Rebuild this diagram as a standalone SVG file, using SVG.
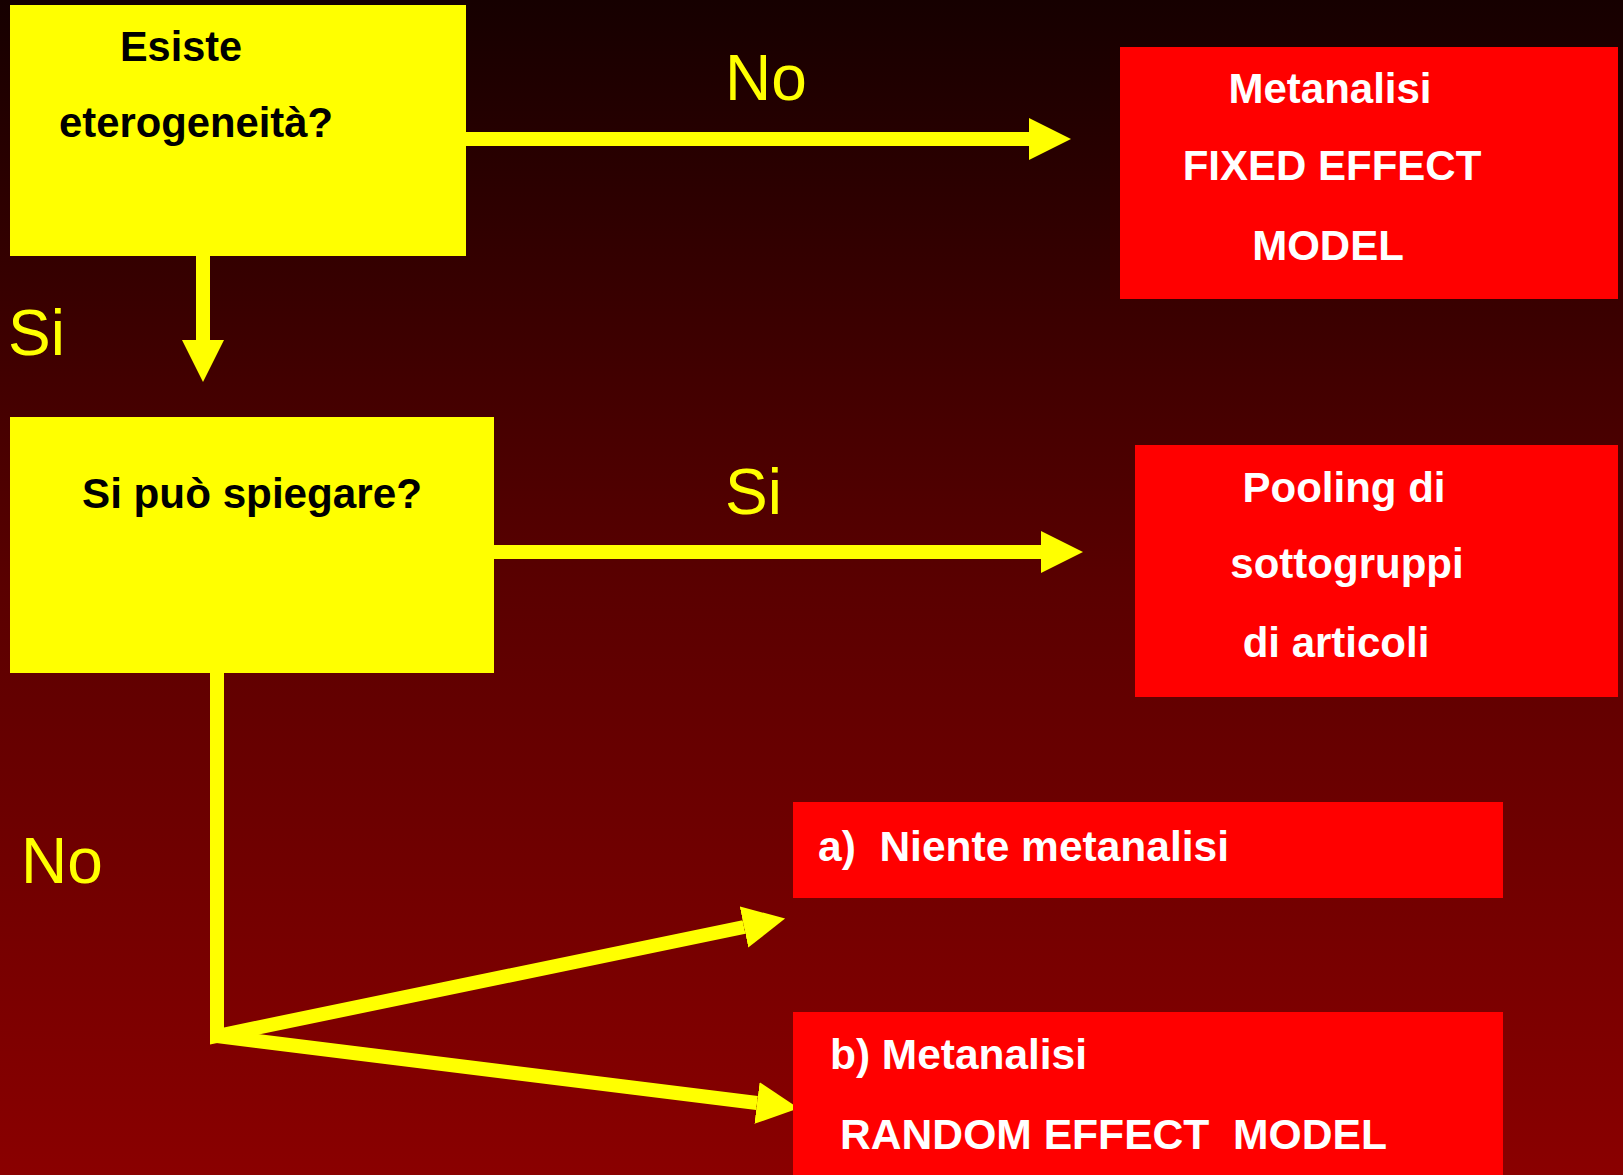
<svg xmlns="http://www.w3.org/2000/svg" width="1623" height="1175" viewBox="0 0 1623 1175">
  <defs>
    <linearGradient id="bg" x1="0" y1="0" x2="0" y2="1">
      <stop offset="0" stop-color="#160000"/>
      <stop offset="0.5" stop-color="#5a0000"/>
      <stop offset="1" stop-color="#8a0000"/>
    </linearGradient>
    <marker id="ah" viewBox="0 0 3 3" refX="0" refY="1.5" markerWidth="3" markerHeight="3" markerUnits="strokeWidth" orient="auto">
      <path d="M0,0 L3,1.5 L0,3 Z" fill="#FFFF00"/>
    </marker>
  </defs>
  <style>
    .yel { fill: #FFFF00; }
    .red { fill: #FF0000; }
    .qt { font-family: "Liberation Sans", Arial, sans-serif; font-weight: bold; font-size: 42px; fill: #000000; }
    .rt { font-family: "Liberation Sans", Arial, sans-serif; font-weight: bold; font-size: 42px; fill: #FFFFFF; }
    .lbl { font-family: "Liberation Sans", Arial, sans-serif; font-size: 64px; fill: #FFFF00; }
    .conn { stroke: #FFFF00; stroke-width: 14; fill: none; }
  </style>
  <rect x="0" y="0" width="1623" height="1175" fill="url(#bg)"/>

  <g id="connectors">
    <line class="conn" x1="466" y1="139" x2="1029" y2="139" marker-end="url(#ah)"/>
    <line class="conn" x1="203" y1="256" x2="203" y2="340" marker-end="url(#ah)"/>
    <line class="conn" x1="494" y1="552" x2="1041" y2="552" marker-end="url(#ah)"/>
    <polyline class="conn" points="217,673 217,1036 744,927" marker-end="url(#ah)" stroke-linejoin="miter"/>
    <polyline class="conn" points="217,1036 757,1103" marker-end="url(#ah)"/>
    <text class="lbl" x="725" y="100">No</text>
    <text class="lbl" x="8" y="355">Si</text>
    <text class="lbl" x="725" y="514">Si</text>
    <text class="lbl" x="21" y="883">No</text>
  </g>

  <g id="node-esiste">
    <rect class="yel" x="10" y="5" width="456" height="251"/>
    <text class="qt" x="120" y="61" textLength="122" lengthAdjust="spacingAndGlyphs">Esiste</text>
    <text class="qt" x="59" y="137" textLength="274" lengthAdjust="spacingAndGlyphs">eterogeneità?</text>
  </g>

  <g id="node-fixed">
    <rect class="red" x="1120" y="47" width="498" height="252"/>
    <text class="rt" x="1330" y="103" text-anchor="middle">Metanalisi</text>
    <text class="rt" x="1332" y="180" text-anchor="middle">FIXED EFFECT</text>
    <text class="rt" x="1328" y="260" text-anchor="middle">MODEL</text>
  </g>

  <g id="node-spiegare">
    <rect class="yel" x="10" y="417" width="484" height="256"/>
    <text class="qt" x="82" y="508" textLength="340" lengthAdjust="spacingAndGlyphs">Si può spiegare?</text>
  </g>

  <g id="node-pooling">
    <rect class="red" x="1135" y="445" width="483" height="252"/>
    <text class="rt" x="1344" y="502" text-anchor="middle">Pooling di</text>
    <text class="rt" x="1347" y="578" text-anchor="middle">sottogruppi</text>
    <text class="rt" x="1336" y="657" text-anchor="middle">di articoli</text>
  </g>

  <g id="node-niente">
    <rect class="red" x="793" y="802" width="710" height="96"/>
    <text class="rt" x="818" y="861" xml:space="preserve" textLength="411" lengthAdjust="spacingAndGlyphs">a)  Niente metanalisi</text>
  </g>

  <g id="node-random">
    <rect class="red" x="793" y="1012" width="710" height="170"/>
    <text class="rt" x="830" y="1069" textLength="257" lengthAdjust="spacingAndGlyphs">b) Metanalisi</text>
    <text class="rt" x="840" y="1149" xml:space="preserve" textLength="547" lengthAdjust="spacingAndGlyphs">RANDOM EFFECT  MODEL</text>
  </g>
</svg>
